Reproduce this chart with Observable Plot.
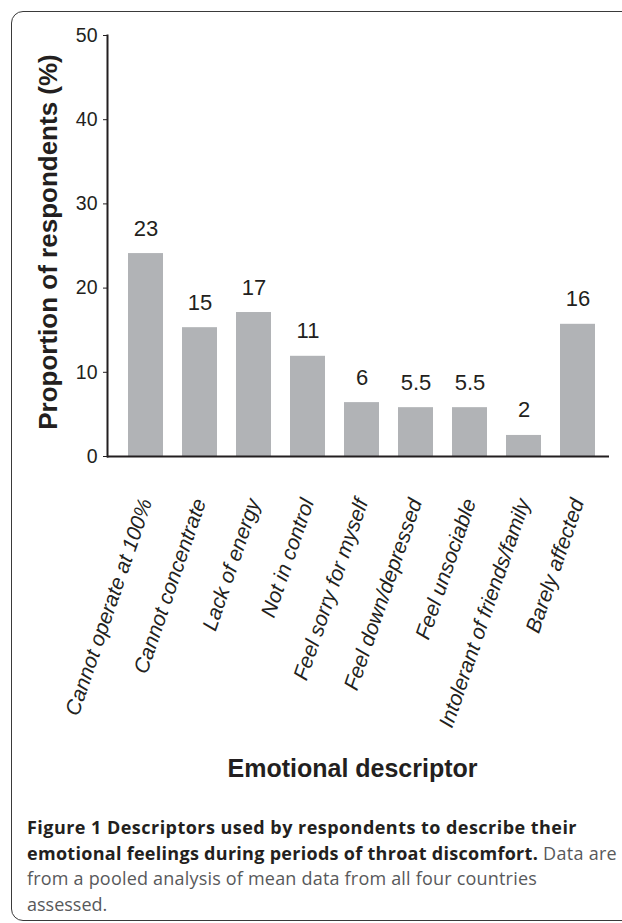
<!DOCTYPE html>
<html><head><meta charset="utf-8">
<script src="https://cdn.jsdelivr.net/npm/d3@7"></script>
<script src="https://cdn.jsdelivr.net/npm/@observablehq/plot@0.6"></script>
<style>
html,body{margin:0;padding:0;background:#fff;width:622px;height:923px;overflow:hidden;position:relative;}
#frame{position:absolute;left:11px;top:11px;width:720px;height:910px;border:1.6px solid #3a3a3a;border-radius:12px;box-sizing:border-box;}
#chart{position:absolute;left:0;top:0;}
#caption{position:absolute;left:27px;top:815px;font-family:"Open Sans",sans-serif;font-size:18px;line-height:25.7px;color:#58595b;white-space:nowrap;}
#caption .ln{display:block;}
#caption b{color:#231f20;font-weight:700;}
</style></head>
<body>
<div id="frame"></div>
<div id="chart"></div>
<div id="caption">
<span class="ln" data-w="550"><b>Figure 1 Descriptors used by respondents to describe their</b></span>
<span class="ln" data-w="590"><b>emotional feelings during periods of throat discomfort.</b> Data are</span>
<span class="ln" data-w="510">from a pooled analysis of mean data from all four countries</span>
<span class="ln">assessed.</span>
</div>
<script>
const categories = ["Cannot operate at 100%","Cannot concentrate","Lack of energy","Not in control","Feel sorry for myself","Feel down/depressed","Feel unsociable","Intolerant of friends/family","Barely affected"];
const values = [24.1,15.3,17.1,11.9,6.4,5.8,5.8,2.5,15.7];
const valueLabels = ["23","15","17","11","6","5.5","5.5","2","16"];
const yTicks = [0,10,20,30,40,50];
const yTitle = "Proportion of respondents (%)";
const xTitle = "Emotional descriptor";

const data = categories.map((c,i)=>({category:c, value:values[i], label:valueLabels[i]}));
const ink = "#231f20";

const plot = Plot.plot({
  width: 622, height: 800,
  marginTop: 35, marginBottom: 344, marginLeft: 107, marginRight: 13,
  style: {fontFamily: "'Liberation Sans', Arial, sans-serif", color: ink, background: "transparent", overflow: "visible"},
  x: {domain: categories, range: [115, 608], paddingInner: 0.36, paddingOuter: 0.18, axis: null},
  y: {domain: [0, 50], axis: null},
  marks: [
    Plot.barY(data, {x: "category", y: "value", fill: "#b1b3b6"}),
    Plot.ruleY([0], {stroke: ink, strokeWidth: 2}),
    Plot.frame({anchor: "left", stroke: ink, strokeWidth: 2}),
    Plot.axisY({ticks: yTicks, tickSize: 4, tickPadding: 6, fontSize: 19.5, label: null, tickFormat: d => String(d), stroke: ink, fill: ink}),
    Plot.text(data, {x: "category", y: "value", text: "label", dy: -18, lineAnchor: "bottom", fontSize: 22, fill: ink}),
    Plot.text(data, {x: "category", frameAnchor: "bottom", text: "category", rotate: -71, textAnchor: "end", lineAnchor: "middle", dy: 43, fontSize: 21, fontStyle: "italic", fill: ink}),
    Plot.text([yTitle], {frameAnchor: "left", rotate: -90, textAnchor: "middle", dx: -59, dy: -4, fontSize: 26, fontWeight: "bold", lineAnchor: "middle", fill: ink}),
    Plot.text([xTitle], {frameAnchor: "bottom", dx: -6, dy: 320, fontSize: 25, fontWeight: "bold", lineAnchor: "bottom", fill: ink})
  ]
});
document.getElementById("chart").appendChild(plot);

// fit caption lines to the reference line widths
document.querySelectorAll("#caption .ln[data-w]").forEach(el => {
  el.style.display = "inline-block";
  const w = el.getBoundingClientRect().width;
  const n = el.textContent.length;
  const target = +el.dataset.w;
  el.style.letterSpacing = ((target - w) / n) + "px";
  el.style.display = "block";
});
</script>
</body></html>
